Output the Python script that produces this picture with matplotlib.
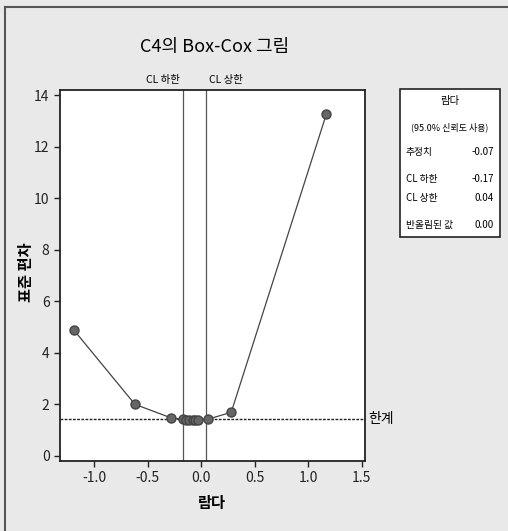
import matplotlib
matplotlib.use("Agg")
import matplotlib.pyplot as plt
from matplotlib.patches import Rectangle
from matplotlib.lines import Line2D

plt.rcParams['font.family'] = ['Noto Sans CJK KR', 'DejaVu Sans']
plt.rcParams['axes.unicode_minus'] = False

# data
lambdas = [-1.19, -0.62, -0.28, -0.17, -0.14, -0.11, -0.08, -0.06, -0.03, 0.06, 0.28, 1.17]
std_dev = [4.88, 2.00, 1.47, 1.42, 1.41, 1.40, 1.40, 1.40, 1.41, 1.42, 1.69, 13.28]
cl_lower = -0.17
cl_upper = 0.04
limit = 1.42
x_ticks = [-1.0, -0.5, 0.0, 0.5, 1.0, 1.5]
y_ticks = [0, 2, 4, 6, 8, 10, 12, 14]
title = "C4의 Box-Cox 그림"
xlabel = "람다"
ylabel = "표준 편차"
info_labels = ["추정치", "CL 하한", "CL 상한", "반올림된 값"]
info_values = ["-0.07", "-0.17", "0.04", "0.00"]

W, H = 508, 531
fig = plt.figure(figsize=(W / 100, H / 100), dpi=100)
fig.patch.set_facecolor('#e9e9e9')

def fx(px):
    return px / W

def fy(py):
    return 1 - py / H

# outer frame (left and top)
fig.add_artist(Line2D([fx(5), fx(5)], [fy(7), 0], color='#555555', lw=1.5))
fig.add_artist(Line2D([fx(5), 1], [fy(7), fy(7)], color='#555555', lw=1.5))

ax = fig.add_axes([fx(60), fy(461), fx(365) - fx(60), fy(90) - fy(461)])
ax.set_facecolor('white')
ax.plot(lambdas, std_dev, color='#444444', lw=0.9, marker='o', markersize=6.5,
        markerfacecolor='#666666', markeredgecolor='#444444', zorder=3)
ax.axvline(cl_lower, color='#555555', lw=0.9, zorder=2)
ax.axvline(cl_upper, color='#555555', lw=0.9, zorder=2)
ax.axhline(limit, color='#222222', lw=1.0, ls=(0, (2, 1)), zorder=2, clip_on=False)

ax.set_xlim(-1.32, 1.53)
ax.set_ylim(-0.2, 14.2)
ax.set_xticks(x_ticks)
ax.set_xticklabels([f"{t:.1f}" for t in x_ticks])
ax.set_yticks(y_ticks)
ax.tick_params(direction='out', length=4, width=1, labelsize=10, colors='#222222')
for s in ax.spines.values():
    s.set_color('#222222')
    s.set_linewidth(1.3)

fig.text(fx(215), fy(47), title, ha='center', va='center', fontsize=13)
fig.text(fx(212), fy(503), xlabel, ha='center', va='center', fontsize=11, fontweight='bold')
fig.text(fx(26), fy(272), ylabel, ha='center', va='center', fontsize=11, fontweight='bold', rotation=90)

# CL labels above plot
ax.text(cl_lower - 0.03, 1.0 + 10 / 371, "CL 하한", transform=ax.get_xaxis_transform(),
        ha='right', va='center', fontsize=7.5)
ax.text(cl_upper + 0.03, 1.0 + 10 / 371, "CL 상한", transform=ax.get_xaxis_transform(),
        ha='left', va='center', fontsize=7.5)
# limit label
fig.text(fx(368), fy(419), "한계", ha='left', va='center', fontsize=10)

# info box
fig.add_artist(Rectangle((fx(400), fy(237)), fx(500) - fx(400), fy(89) - fy(237),
                         facecolor='white', edgecolor='#222222', lw=1.2))
fig.text(fx(450), fy(101), "람다", ha='center', va='center', fontsize=7.5)
fig.text(fx(450), fy(127), "(95.0% 신뢰도 사용)", ha='center', va='center', fontsize=6.5)
ys = [152, 179, 198, 225]
for lab, val, yy in zip(info_labels, info_values, ys):
    fig.text(fx(406), fy(yy), lab, ha='left', va='center', fontsize=7)
    fig.text(fx(494), fy(yy), val, ha='right', va='center', fontsize=7)

fig.savefig("out.png", dpi=100, facecolor=fig.get_facecolor())
